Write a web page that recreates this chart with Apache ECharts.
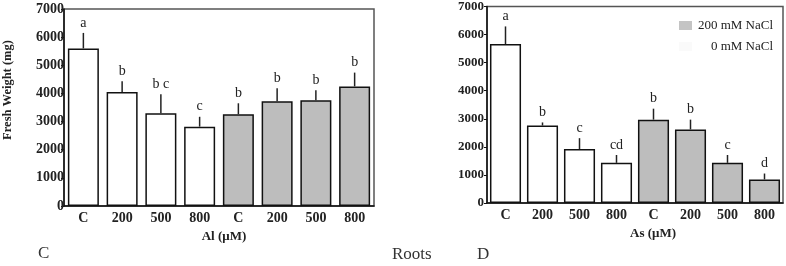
<!DOCTYPE html>
<html><head><meta charset="utf-8">
<script src="https://cdn.jsdelivr.net/npm/echarts@6/dist/echarts.min.js"></script>
<style>html,body{margin:0;padding:0;background:#fff;}#c{width:786px;height:266px;}</style>
</head><body><div id="c"></div>
<script>
var categories = ['C','200','500','800','C','200','500','800'];
var alMean = [5600, 4050, 3300, 2820, 3260, 3720, 3760, 4250];
var alErr = [550, 380, 670, 350, 390, 460, 350, 490];
var alLetters = ['a','b','b c','c','b','b','b','b'];
var asMean = [5660, 2760, 1920, 1430, 2970, 2620, 1430, 840];
var asErr = [630, 110, 390, 280, 390, 350, 280, 210];
var asLetters = ['a','b','c','cd','b','b','c','d'];
var yTicks = [0, 1000, 2000, 3000, 4000, 5000, 6000, 7000];
var nacl = ['0 mM NaCl', '200 mM NaCl'];

var SERIF = 'Liberation Serif';
function split(arr, grey) {
  return arr.map(function (v, i) { return (i >= 4) === grey ? v : '-'; });
}
function errSeries(idx, mean, err, letters) {
  return {
    type: 'custom', xAxisIndex: idx, yAxisIndex: idx, silent: true, z: 5,
    data: mean.map(function (v, i) { return [i, v, v + err[i], letters[i]]; }),
    renderItem: function (params, api) {
      var b = api.coord([api.value(0), api.value(1)]);
      var t = api.coord([api.value(0), api.value(2)]);
      return { type: 'group', children: [
        { type: 'line', shape: { x1: b[0], y1: b[1], x2: t[0], y2: t[1] }, style: { stroke: '#222', lineWidth: 1.5 } },
        { type: 'text', x: t[0], y: t[1] - 3, style: { text: letters[params.dataIndex], fill: '#222', font: '14px "' + SERIF + '"', align: 'center', verticalAlign: 'bottom' } }
      ]};
    }
  };
}
function barSeries(idx, name, data, color) {
  return {
    type: 'bar', name: name, xAxisIndex: idx, yAxisIndex: idx, data: data,
    barWidth: idx === 0 ? '80%' : '84%', barGap: '-100%',
    itemStyle: { color: color, borderColor: '#111', borderWidth: 1.5 }
  };
}
var yMin = yTicks[0], yMax = yTicks[yTicks.length - 1], yInt = yTicks[1] - yTicks[0];
function yAx(idx) {
  return {
    gridIndex: idx, type: 'value', min: yMin, max: yMax, interval: yInt,
    splitLine: { show: false },
    axisLine: { show: true, lineStyle: { color: '#111', width: 1.5 } },
    axisTick: { show: true, length: 3, inside: false, lineStyle: { color: '#111' } },
    axisLabel: { margin: idx === 0 ? 0 : 3, color: '#222', fontFamily: SERIF, fontWeight: 'bold', fontSize: idx === 0 ? 14 : 13,
      formatter: function (v) { return String(v); } }
  };
}
function xAx(idx, name, pad) {
  return {
    gridIndex: idx, type: 'category', data: categories,
    axisLine: { show: true, lineStyle: { color: '#111', width: 1.5 } },
    axisTick: { show: false },
    axisLabel: { margin: 5, color: '#222', fontFamily: SERIF, fontWeight: 'bold', fontSize: 14 },
    name: name, nameLocation: 'middle', nameGap: 24,
    nameTextStyle: { color: '#222', fontFamily: SERIF, fontWeight: 'bold', fontSize: 13, padding: [0, 0, 0, pad] }
  };
}
var chart = echarts.init(document.getElementById('c'), null, { renderer: 'canvas' });
chart.setOption({
  animation: false,
  backgroundColor: '#fff',
  grid: [
    { left: 64, top: 9, width: 310, height: 197, show: true, borderColor: '#555', borderWidth: 1.5 },
    { left: 487, top: 2, width: 296, height: 201, show: true, borderColor: '#555', borderWidth: 1.5 }
  ],
  xAxis: [xAx(0, 'Al (\u03bcM)', 10), xAx(1, 'As (\u03bcM)', 36)],
  yAxis: [yAx(0), yAx(1)],
  legend: {
    data: [
      { name: nacl[1], icon: 'rect', itemStyle: { color: '#c4c4c4', borderWidth: 0 } },
      { name: nacl[0], icon: 'rect', itemStyle: { color: '#fafafa', borderWidth: 0 } }
    ],
    orient: 'vertical', left: 674, top: 14,
    itemWidth: 13, itemHeight: 9, itemGap: 8, selectedMode: false,
    textStyle: { color: '#222', fontFamily: SERIF, fontSize: 13,
      rich: { r: { width: 76, align: 'right', fontFamily: SERIF, fontSize: 13, color: '#222' } } },
    formatter: function (n) { return '{r|' + n + '}'; }
  },
  title: [
    { text: 'C', left: 33, top: 240, textStyle: { fontFamily: SERIF, fontWeight: 'normal', fontSize: 17, color: '#333' } },
    { text: 'Roots', left: 387, top: 241, textStyle: { fontFamily: SERIF, fontWeight: 'normal', fontSize: 17, color: '#333' } },
    { text: 'D', left: 472, top: 241, textStyle: { fontFamily: SERIF, fontWeight: 'normal', fontSize: 17, color: '#333' } }
  ],
  graphic: [
    { type: 'text', x: 8, y: 90, rotation: Math.PI / 2, style: { text: 'Fresh Weight (mg)', fill: '#222', font: 'bold 12.5px "' + SERIF + '"', align: 'center', verticalAlign: 'middle' } }
  ],
  series: [
    barSeries(0, nacl[0], split(alMean, false), '#ffffff'),
    barSeries(0, nacl[1], split(alMean, true), '#bdbdbd'),
    errSeries(0, alMean, alErr, alLetters),
    barSeries(1, nacl[0], split(asMean, false), '#ffffff'),
    barSeries(1, nacl[1], split(asMean, true), '#bdbdbd'),
    errSeries(1, asMean, asErr, asLetters)
  ]
});
</script></body></html>
